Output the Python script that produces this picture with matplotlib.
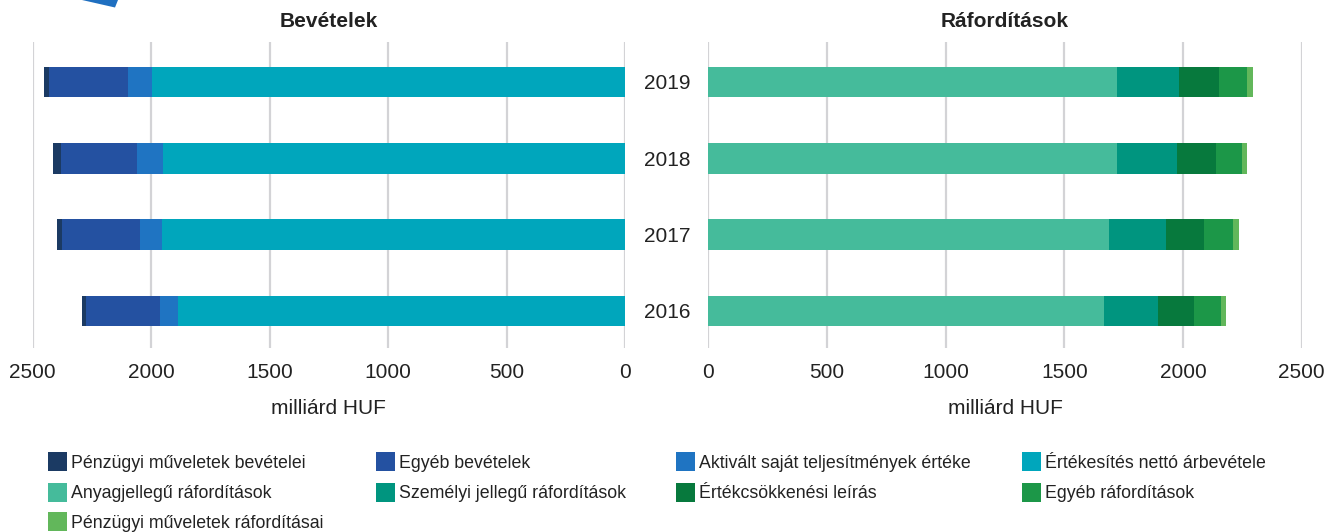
import matplotlib
matplotlib.use("Agg")
import matplotlib.pyplot as plt
from matplotlib.patches import Rectangle, Polygon
import numpy as np

plt.rcParams['font.family'] = ['Liberation Sans', 'DejaVu Sans']

years = ['2016', '2017', '2018', '2019']

# Bevételek (milliárd HUF)
rev_sales = [1884, 1954, 1950, 1994]      # Értékesítés nettó árbevétele
rev_capital = [77, 92, 110, 101]          # Aktivált saját teljesítmények értéke
rev_other = [313, 331, 320, 334]          # Egyéb bevételek
rev_fin = [17, 18, 35, 22]                # Pénzügyi műveletek bevételei

# Ráfordítások (milliárd HUF)
exp_material = [1667, 1688, 1720, 1720]   # Anyagjellegű ráfordítások
exp_personal = [226, 240, 253, 261]       # Személyi jellegű ráfordítások
exp_depr = [154, 160, 166, 170]           # Értékcsökkenési leírás
exp_other = [113, 124, 110, 119]          # Egyéb ráfordítások
exp_fin = [21, 22, 20, 23]                # Pénzügyi műveletek ráfordításai

x_ticks = [0, 500, 1000, 1500, 2000, 2500]

labels = {
    'rev_fin': 'Pénzügyi műveletek bevételei',
    'rev_other': 'Egyéb bevételek',
    'rev_capital': 'Aktivált saját teljesítmények értéke',
    'rev_sales': 'Értékesítés nettó árbevétele',
    'exp_material': 'Anyagjellegű ráfordítások',
    'exp_personal': 'Személyi jellegű ráfordítások',
    'exp_depr': 'Értékcsökkenési leírás',
    'exp_other': 'Egyéb ráfordítások',
    'exp_fin': 'Pénzügyi műveletek ráfordításai',
}
colors = {
    'rev_fin': '#1b3a63',
    'rev_other': '#2451a1',
    'rev_capital': '#1f74c2',
    'rev_sales': '#00a6bc',
    'exp_material': '#45bb9b',
    'exp_personal': '#00957f',
    'exp_depr': '#07793d',
    'exp_other': '#1c9748',
    'exp_fin': '#62b75b',
}

W, H = 1339, 532
fig = plt.figure(figsize=(W / 100, H / 100), dpi=100)

def fx(px):
    return px / W

def fy(py):
    return 1 - py / H

ax_top, ax_bot = 42, 348
axL = fig.add_axes([fx(32.5), fy(ax_bot), fx(625 - 32.5), (ax_bot - ax_top) / H])
axR = fig.add_axes([fx(708.3), fy(ax_bot), fx(1301.7 - 708.3), (ax_bot - ax_top) / H])

ypos = np.arange(len(years))
bh = 0.40
text_color = '#222222'

def style(ax, inverted):
    ax.set_xlim((2500, 0) if inverted else (0, 2500))
    ax.set_ylim(-0.485, 3.524)
    ax.set_xticks(x_ticks)
    ax.set_xticklabels([str(t) for t in x_ticks])
    ax.tick_params(axis='x', length=0, pad=11, labelsize=15, labelcolor=text_color)
    ax.set_yticks([])
    for s in ax.spines.values():
        s.set_visible(False)
    ax.grid(axis='x', color='#d3d3d6', linewidth=1.6)
    ax.set_axisbelow(True)
    ax.set_xlabel('milliárd HUF', fontsize=15, color=text_color, labelpad=12)

left_series = ['rev_sales', 'rev_capital', 'rev_other', 'rev_fin']
left_data = {'rev_sales': rev_sales, 'rev_capital': rev_capital,
             'rev_other': rev_other, 'rev_fin': rev_fin}
base = np.zeros(len(years))
for k in left_series:
    v = np.array(left_data[k], dtype=float)
    axL.barh(ypos, v, left=base, height=bh, color=colors[k], linewidth=0)
    base += v

right_series = ['exp_material', 'exp_personal', 'exp_depr', 'exp_other', 'exp_fin']
right_data = {'exp_material': exp_material, 'exp_personal': exp_personal,
              'exp_depr': exp_depr, 'exp_other': exp_other, 'exp_fin': exp_fin}
base = np.zeros(len(years))
for k in right_series:
    v = np.array(right_data[k], dtype=float)
    axR.barh(ypos, v, left=base, height=bh, color=colors[k], linewidth=0)
    base += v

style(axL, True)
style(axR, False)

axL.set_title('Bevételek', fontsize=15, fontweight='bold', color=text_color, pad=11)
axR.set_title('Ráfordítások', fontsize=15, fontweight='bold', color=text_color, pad=11)

# year labels between the panels
for i, y in enumerate(years):
    disp = axR.transData.transform((0, ypos[i]))
    yfig = fig.transFigure.inverted().transform(disp)[1]
    fig.text(fx(667), yfig, y, ha='center', va='center_baseline', fontsize=15, color=text_color)

# legend (row-major, 4 columns)
legend_order = [
    ['rev_fin', 'rev_other', 'rev_capital', 'rev_sales'],
    ['exp_material', 'exp_personal', 'exp_depr', 'exp_other'],
    ['exp_fin'],
]
col_x = [48, 376, 676, 1022]
row_y = [461, 492, 521]
psz = 19
for r, row in enumerate(legend_order):
    for c, k in enumerate(row):
        x0 = col_x[c]
        yc = row_y[r]
        fig.add_artist(Rectangle((fx(x0), fy(yc + psz / 2)), psz / W, psz / H,
                                 transform=fig.transFigure, color=colors[k], lw=0))
        fig.text(fx(x0 + psz + 4), fy(yc), labels[k], ha='left', va='center_baseline',
                 fontsize=12.8, color=text_color)

# decorative blue corner shape
fig.add_artist(Polygon([(fx(82), fy(0)), (fx(118), fy(0)), (fx(115), fy(7.5))],
                       closed=True, transform=fig.transFigure, color='#1f6fc0', lw=0))

fig.savefig('out.png', dpi=100)
